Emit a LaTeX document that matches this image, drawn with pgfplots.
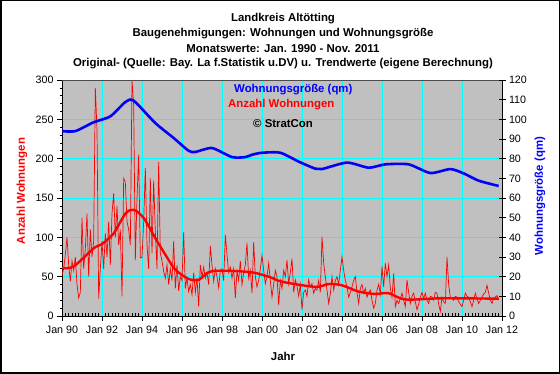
\documentclass[border=0pt]{standalone}
\usepackage{fontspec}
\setmainfont{Liberation Sans}
\usepackage{pgfplots}
\usepackage{pgfplotstable}
\pgfplotsset{compat=1.18}
\definecolor{plotgray}{RGB}{192,192,192}
\definecolor{xred}{RGB}{255,0,0}
\definecolor{xblue}{RGB}{0,0,255}
\definecolor{xcyan}{RGB}{0,255,255}
\pgfplotstableread[row sep=\\, header=false]{
52\\60\\78\\100\\65\\44\\70\\58\\75\\40\\23\\30\\
125\\60\\85\\130\\50\\110\\75\\95\\290\\237\\22\\60\\
95\\60\\105\\75\\120\\65\\130\\156\\100\\140\\90\\110\\
25\\175\\170\\120\\110\\90\\300\\268\\71\\150\\205\\74\\
74\\120\\188\\90\\60\\175\\80\\172\\107\\60\\196\\80\\
70\\57\\48\\65\\40\\60\\45\\95\\35\\65\\32\\50\\
45\\107\\35\\48\\31\\40\\27\\55\\30\\48\\12\\65\\
50\\62\\48\\55\\40\\89\\65\\44\\60\\50\\36\\58\\
60\\45\\103\\78\\55\\62\\48\\60\\23\\57\\45\\70\\
40\\55\\65\\93\\48\\58\\29\\94\\50\\37\\45\\60\\
77\\58\\41\\50\\67\\45\\24\\40\\58\\50\\14\\45\\
35\\58\\50\\71\\41\\55\\73\\30\\46\\38\\25\\40\\
8\\30\\33\\25\\46\\37\\41\\29\\35\\33\\45\\30\\
101\\67\\50\\33\\16\\28\\50\\33\\45\\50\\40\\58\\
75\\58\\45\\37\\24\\30\\37\\45\\50\\30\\16\\35\\
40\\29\\35\\24\\30\\33\\20\\10\\16\\33\\40\\28\\
63\\37\\67\\50\\65\\35\\24\\54\\12\\20\\16\\22\\
29\\20\\12\\46\\30\\16\\25\\29\\18\\8\\15\\24\\
30\\22\\29\\20\\16\\25\\24\\20\\30\\29\\15\\6\\
24\\18\\16\\75\\40\\24\\22\\20\\25\\24\\18\\15\\
12\\20\\29\\25\\24\\18\\12\\20\\29\\22\\16\\20\\
24\\28\\30\\39\\29\\20\\16\\22\\24\\26\\20\\
}\rawdata
\begin{document}
\begin{tikzpicture}
\useasboundingbox (0pt,0pt) rectangle (560pt,374pt);
\fill[white] (0pt,0pt) rectangle (560pt,374pt);
\draw[line width=1.5pt] (0.75pt,0.75pt) rectangle (559.25pt,373.25pt);
\begin{axis}[
  at={(62pt,58pt)}, anchor=south west,
  scale only axis, width=440pt, height=236pt,
  xmin=0, xmax=264, ymin=0, ymax=300,
  axis background/.style={fill=plotgray},
  axis x line*=bottom, axis y line*=left,
  axis line style={black, line width=0.8pt},
  xtick={0,24,...,264},
  xticklabels={Jan 90,Jan 92,Jan 94,Jan 96,Jan 98,Jan 00,Jan 02,Jan 04,Jan 06,Jan 08,Jan 10,Jan 12},
  ytick={0,50,...,300},
  minor x tick num=11, minor y tick num=4,
  tick align=outside,
  major tick length=5pt, minor tick length=2.5pt,
  minor x tick style={yshift=2.5pt},
  tick style={black, line width=0.6pt},
  grid=major, major grid style={xcyan, line width=0.9pt},
  minor grid style={draw=none},
  ticklabel style={font=\fontsize{10.7}{12}\selectfont},
  /pgf/number format/assume math mode=true,
  xticklabel style={yshift=-2pt},
  clip=true,
]
\addplot[xred, line width=0.7pt] table[x expr=\coordindex, y index=0] {\rawdata};
\addplot[xred, line width=2.4pt, smooth, tension=0.5] coordinates {
(0,61) (7,63) (19,86) (24,91.5) (31,105) (38,130) (43,135) (49,124.6) (56,99) (62,78) (68,59) (76,47) (82,46) (90,57) (112,56) (124,50) (132,43.6) (152,37) (160,40.7) (168,39) (178,31) (188,28) (196,29) (206,21) (228,22.5) (262,22)
};
\draw[gray!60!black, line width=0.8pt] (rel axis cs:0,1) -- (rel axis cs:1,1);
\end{axis}
\begin{axis}[
  at={(62pt,58pt)}, anchor=south west,
  scale only axis, width=440pt, height=236pt,
  xmin=0, xmax=264, ymin=0, ymax=120,
  axis x line=none, axis y line*=right,
  axis line style={black, line width=0.8pt},
  ytick={0,10,...,120},
  tick align=center, major tick length=7pt,
  tick style={black, line width=0.6pt},
  ticklabel style={font=\fontsize{10.7}{12}\selectfont},
  /pgf/number format/assume math mode=true,
  yticklabel style={xshift=0pt},
]
\addplot[xblue, line width=2.6pt, smooth, tension=0.4] coordinates {
(0,94) (8,94) (19,98.5) (29,101.5) (38,108.8) (43,109.5) (56,98.1) (67,90.5) (76,84) (80,83.4) (90,85.4) (102,80.8) (110,80.8) (114,82) (120,83) (131,83) (142,78.5) (152,74.9) (156,74.7) (171,78) (184,75.4) (194,77.1) (208,77.1) (221,72.7) (233,74.7) (241,72.5) (250,68.8) (262,66.1)
};
\end{axis}
\begin{scope}[font=\fontsize{11.4}{13}\selectfont\bfseries]
\node at (283pt,355pt) {Landkreis Altötting};
\node at (283pt,340pt) {Baugenehmigungen: Wohnungen und Wohnungsgröße};
\node at (283pt,325pt) {Monatswerte: Jan. 1990 - Nov. 2011};
\node at (283pt,310pt) {Original- (Quelle: Bay. La f.Statistik u.DV) u. Trendwerte (eigene Berechnung)};
\node[anchor=west, text=xblue, inner sep=0pt] at (234pt,284pt) {Wohnungsgröße (qm)};
\node[anchor=west, text=xred, inner sep=0pt] at (228pt,269pt) {Anzahl Wohnungen};
\node[anchor=west, inner sep=0pt] at (253pt,250pt) {© StratCon};
\node at (283pt,18pt) {Jahr};
\node[rotate=90, text=xred] at (22pt,183pt) {Anzahl Wohnungen};
\node[rotate=90, text=xblue] at (540pt,178pt) {Wohnungsgröße (qm)};
\end{scope}
\end{tikzpicture}
\end{document}
